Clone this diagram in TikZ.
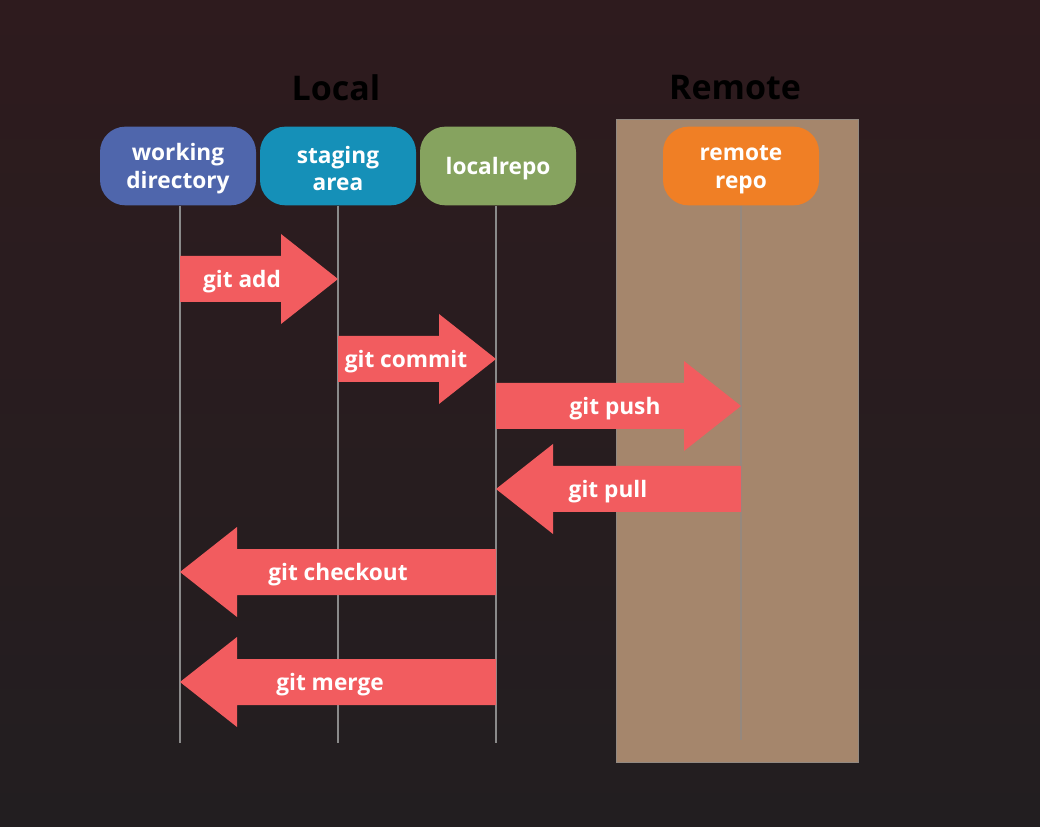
\documentclass[tikz,border=0pt]{standalone}
\usepackage{fontspec}
\setmainfont{Open Sans}[BoldFont={* Bold}]
\usetikzlibrary{calc}
\definecolor{bgtop}{HTML}{2E1B1E}
\definecolor{bgbot}{HTML}{221E20}
\definecolor{remotebg}{HTML}{A5866C}
\definecolor{wdcol}{HTML}{4F66AC}
\definecolor{sacol}{HTML}{1590B8}
\definecolor{lrcol}{HTML}{86A35F}
\definecolor{rrcol}{HTML}{F07F25}
\definecolor{arrcol}{HTML}{F25C5F}
\definecolor{linecol}{HTML}{8A8A8A}
\newcommand\topstrut{\rule{0pt}{17pt}}
\tikzset{
  stagebox/.style={rounded corners=19pt, minimum width=117pt, minimum height=59pt,
    inner sep=0pt, align=center, text=white, font=\bfseries\fontsize{17}{20.5}\selectfont},
  lifeline/.style={draw=linecol, line width=1.5pt},
  arrowfill/.style={fill=arrcol},
  arrowlabel/.style={text=white, font=\bfseries\fontsize{17}{20}\selectfont, inner sep=0pt},
  titletext/.style={text=black, font=\bfseries\fontsize{25.5}{30}\selectfont}
}
\newcommand\fatarrow[6]{%
  \pgfmathsetmacro\hb{#2-57*sign(#2-#1)}%
  \fill[arrowfill] (#1,#3-23) -- (\hb,#3-23) -- (\hb,#3-45) -- (#2,#3) -- (\hb,#3+45) -- (\hb,#3+23) -- (#1,#3+23) -- cycle;
  \node[arrowlabel] (#6) at (#5,#3+3) {#4};
}
\begin{document}
\begin{tikzpicture}[x=0.75pt,y=-0.75pt]
  \shade[top color=bgtop, bottom color=bgbot] (0,0) rectangle (1040,827);
  \useasboundingbox (0,0) rectangle (1040,827);
  % remote panel
  \fill[remotebg, draw=linecol!70!remotebg, line width=0.75pt] (616,120) rectangle (858,762);
  % titles
  \node[titletext] (local) at (336,88) {Local};
  \node[titletext] (remote) at (735,88) {Remote};
  % stage nodes
  \node[stagebox, fill=wdcol] (wd) at (178,166) {\topstrut working\\directory};
  \node[stagebox, fill=sacol] (sa) at (338,166) {\topstrut staging\\area};
  \node[stagebox, fill=lrcol] (lr) at (498,166) {\topstrut localrepo};
  \node[stagebox, fill=rrcol] (rr) at (741,166) {\topstrut remote\\repo};
  % lifeline ends
  \coordinate (wdend) at (180,743);
  \coordinate (saend) at (338,743);
  \coordinate (lrend) at (496,743);
  \coordinate (rrend) at (741,740);
  \draw[lifeline] (wd.south -| wdend) -- (wdend);
  \draw[lifeline] (sa.south -| saend) -- (saend);
  \draw[lifeline] (lr.south -| lrend) -- (lrend);
  \draw[lifeline, draw=linecol!60!remotebg] (rr.south -| rrend) -- (rrend);
  % arrows
  \fatarrow{180}{338}{279}{git add}{242}{add}
  \fatarrow{338}{496}{359}{git commit}{406}{commit}
  \fatarrow{496}{741}{406}{git push}{615}{push}
  \fatarrow{741}{496}{489}{git pull}{608}{pull}
  \fatarrow{496}{180}{572}{git checkout}{338}{checkout}
  \fatarrow{496}{180}{682}{git merge}{330}{merge}
\end{tikzpicture}
\end{document}
